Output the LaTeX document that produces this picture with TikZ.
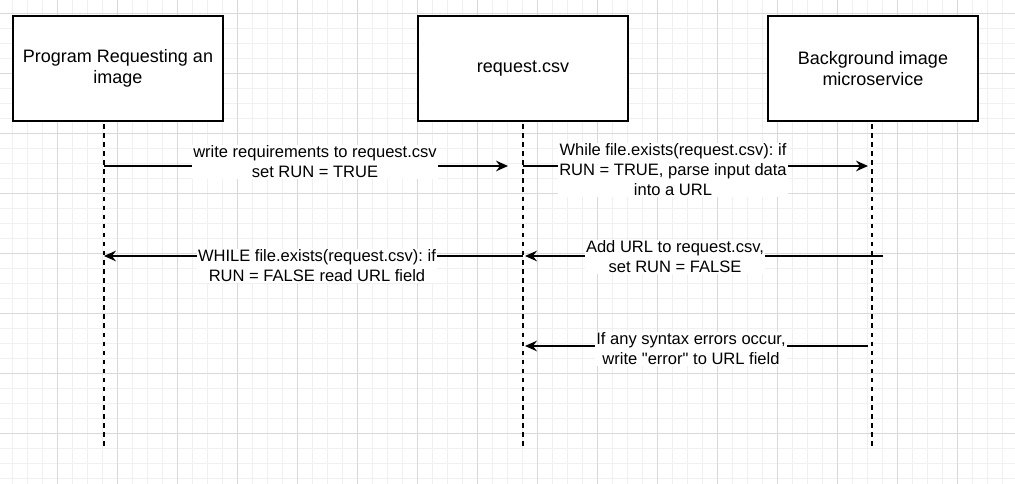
\documentclass[tikz,border=0pt]{standalone}
\usepackage{fontspec}
\setmainfont{Liberation Sans}
\usetikzlibrary{arrows.meta}
\frenchspacing
\begin{document}
\begin{tikzpicture}[x=0.75pt,y=-0.75pt,
        minorgrid/.style={draw=black!6,line width=0.75pt},
        majorgrid/.style={draw=black!15,line width=0.75pt},
        actor/.style={draw=black,fill=white,line width=1.1pt,minimum width=157.5pt,minimum height=78.75pt,align=center,font=\fontsize{13.5}{16.2}\selectfont},
        lifeline/.style={line width=1.1pt,dash pattern=on 3.4pt off 3.4pt},
        msg/.style={line width=1.1pt,-{Stealth[length=9pt,width=8pt,inset=3pt]}},
        lbl/.style={fill=white,inner sep=1pt,align=center,font=\fontsize{12.4}{15}\selectfont}]
        \useasboundingbox[fill=white] (0,0) rectangle (1015,484);
        \foreach \x in {12,27,...,1002} \draw[minorgrid] (\x,0) -- (\x,484);
        \foreach \y in {14,29,...,479} \draw[minorgrid] (0,\y) -- (1015,\y);
        \foreach \x in {57,117,...,957} \draw[majorgrid] (\x,0) -- (\x,484);
        \foreach \y in {14,74,...,434} \draw[majorgrid] (0,\y) -- (1015,\y);

        \node[actor] (prog) at (118,68.5) {Program Requesting an\\image};
        \node[actor] (csv) at (523,68.5) {request.csv};
        \node[actor] (svc) at (873,68.5) {Background image\\microservice};

        \coordinate (progtop) at (104,124); \coordinate (progbot) at (104,450);
        \coordinate (csvtop) at (523,124); \coordinate (csvbot) at (523,450);
        \coordinate (svctop) at (872,124); \coordinate (svcbot) at (872,450);
        \draw[lifeline] (progtop) -- (progbot);
        \draw[lifeline] (csvtop) -- (csvbot);
        \draw[lifeline] (svctop) -- (svcbot);

        \coordinate (row1) at (0,166);
        \coordinate (row2) at (0,256);
        \coordinate (row3) at (0,346);

        \draw[msg,shorten >=11.25pt] (progtop |- row1) -- (csvtop |- row1);
        \draw[msg,shorten >=3pt] (csvtop |- row1) -- (svctop |- row1);
        \draw[msg,shorten <=-8.25pt,shorten >=1.5pt] (svctop |- row2) -- (csvtop |- row2);
        \draw[msg] (csvtop |- row2) -- (progtop |- row2);
        \draw[msg,shorten <=3pt,shorten >=1.5pt] (svctop |- row3) -- (csvtop |- row3);

        \node[lbl] (writereq) at (315,162) {write requirements to request.csv\\set RUN = TRUE};
        \node[lbl] (parse) at (673,170) {While file.exists(request.csv): if\\RUN = TRUE, parse input data\\into a URL};
        \node[lbl] (addurl) at (675,257) {Add URL to request.csv,\\set RUN = FALSE};
        \node[lbl] (readurl) at (317,266) {WHILE file.exists(request.csv): if\\RUN = FALSE read URL field};
        \node[lbl] (synerr) at (691,349) {If any syntax errors occur,\\write \textquotedbl error\textquotedbl\ to URL field};
    \end{tikzpicture}
\end{document}
